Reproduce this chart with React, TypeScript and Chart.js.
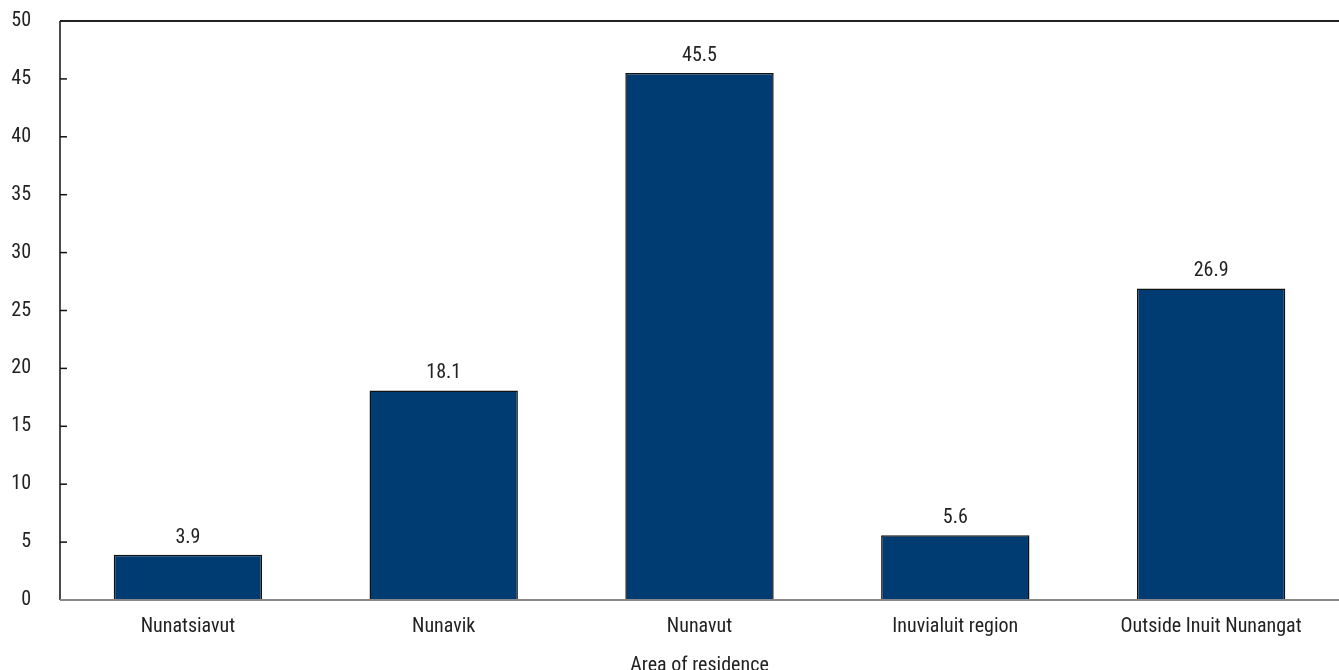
import React, { useEffect, useRef } from "react";
import { Chart, registerables } from "chart.js";

Chart.register(...registerables);

const categories = ["Nunatsiavut", "Nunavik", "Nunavut", "Inuvialuit region", "Outside Inuit Nunangat"];
const values = [3.9, 18.1, 45.5, 5.6, 26.9];
const xTitle = "Area of residence";
const FONT = "'Liberation Sans Narrow', 'Arial Narrow', 'Roboto Condensed', sans-serif";

const decor = {
  id: "decor",
  afterDatasetsDraw(chart: any) {
    const { ctx, chartArea, scales } = chart;
    const y = scales.y;
    ctx.save();
    ctx.font = `20px ${FONT}`;
    ctx.fillStyle = "#222";
    ctx.textAlign = "center";
    ctx.textBaseline = "alphabetic";
    const meta = chart.getDatasetMeta(0);
    meta.data.forEach((bar: any, i: number) => {
      ctx.fillText(values[i].toFixed(1), bar.x, bar.y - 12);
    });
    ctx.strokeStyle = "#111";
    ctx.lineWidth = 1.5;
    y.ticks.forEach((t: any) => {
      const py = y.getPixelForValue(t.value);
      ctx.beginPath();
      ctx.moveTo(chartArea.left, py);
      ctx.lineTo(chartArea.left + 7, py);
      ctx.stroke();
    });
    const top = y.getPixelForValue(y.max);
    ctx.lineWidth = 2;
    ctx.strokeStyle = "#222";
    ctx.beginPath();
    ctx.moveTo(chartArea.left, top);
    ctx.lineTo(chartArea.right, top);
    ctx.stroke();
    ctx.lineWidth = 1.5;
    ctx.strokeStyle = "#111";
    ctx.beginPath();
    ctx.moveTo(chartArea.left, top);
    ctx.lineTo(chartArea.left, chartArea.bottom);
    ctx.stroke();
    ctx.lineWidth = 2;
    ctx.strokeStyle = "#888";
    ctx.beginPath();
    ctx.moveTo(chartArea.left, chartArea.bottom);
    ctx.lineTo(chartArea.right, chartArea.bottom);
    ctx.stroke();
    ctx.restore();
  },
};

export default function App() {
  const ref = useRef<HTMLCanvasElement>(null);
  useEffect(() => {
    document.body.style.margin = "0";
    document.body.style.overflow = "hidden";
    const chart = new Chart(ref.current!, {
      type: "bar",
      data: {
        labels: categories,
        datasets: [
          {
            data: values,
            backgroundColor: "#003c71",
            borderColor: "#111",
            borderWidth: 1.5,
            barPercentage: 0.58,
            categoryPercentage: 1,
          },
        ],
      },
      options: {
        animation: false,
        responsive: false,
        maintainAspectRatio: false,
        layout: { padding: { top: 0, right: 0, left: 0, bottom: 0 } },
        plugins: { legend: { display: false }, tooltip: { enabled: false } },
        scales: {
          x: {
            grid: { display: false, drawTicks: false },
            border: { display: false },
            ticks: { color: "#222", font: { family: FONT, size: 20 }, padding: 15, maxRotation: 0 },
            title: { display: true, text: xTitle, color: "#222", font: { family: FONT, size: 20 }, padding: { top: 0, bottom: 0 } },
          },
          y: {
            min: 0,
            max: 50,
            grid: { display: false, drawTicks: false },
            border: { display: false },
            afterFit(scale: any) {
              scale.width = 60;
              scale.paddingTop = 21;
              scale.paddingBottom = 0;
            },
            ticks: { stepSize: 5, color: "#222", font: { family: FONT, size: 20 }, padding: 29 },
          },
        },
      },
      plugins: [decor],
    });
    return () => chart.destroy();
  }, []);
  return <canvas ref={ref} width={1339} height={678} style={{ display: "block" }} />;
}
